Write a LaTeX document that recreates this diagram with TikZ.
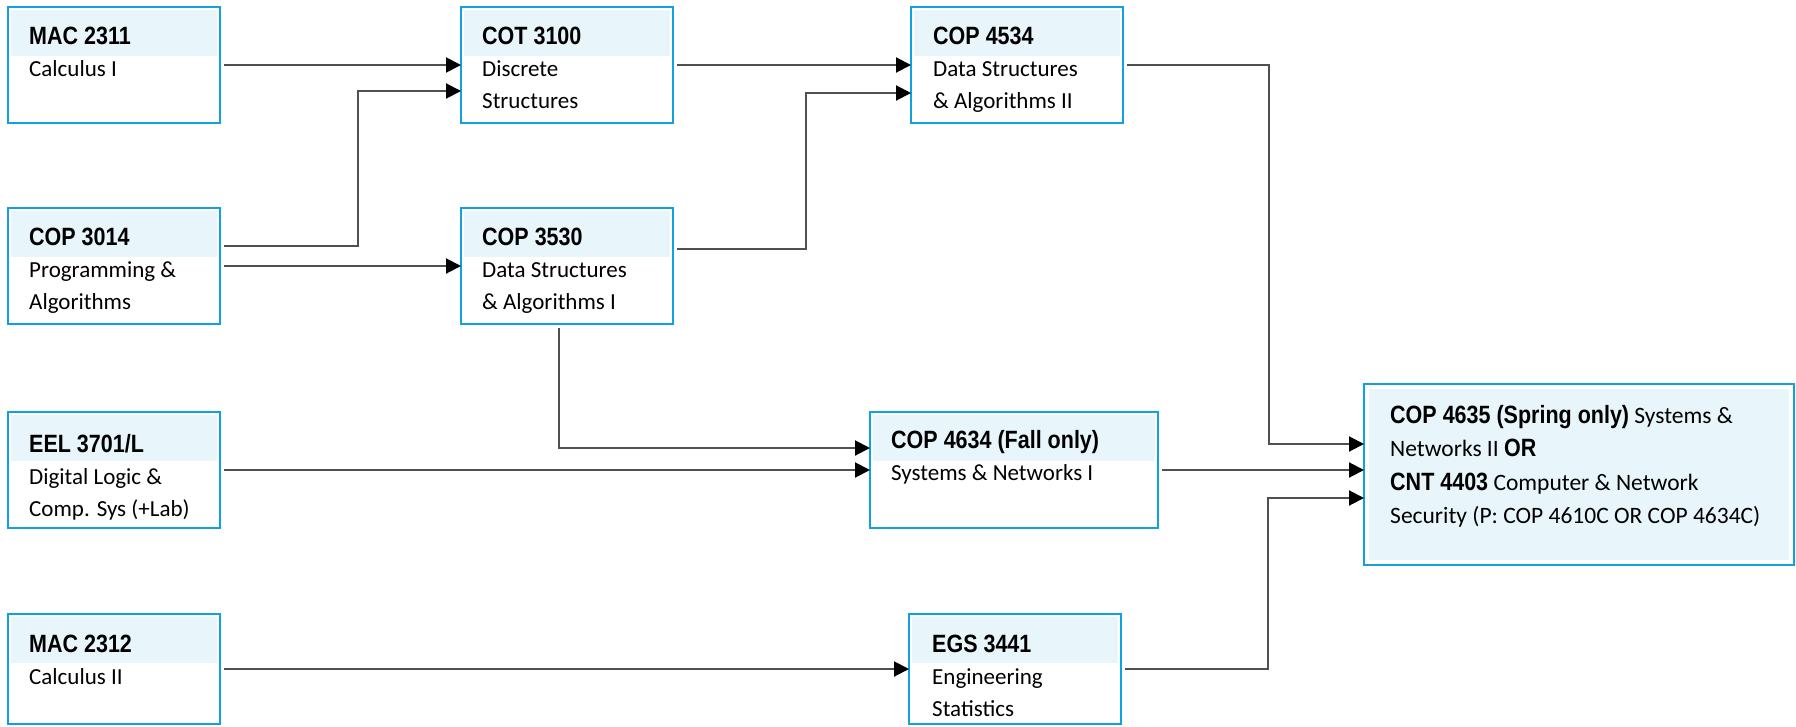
\documentclass[tikz,border=0pt]{standalone}
\usepackage{fontspec}
\setmainfont{Carlito}
\newfontfamily\headfont[FakeStretch=0.86]{Liberation Sans}
\usetikzlibrary{positioning,arrows.meta}
\definecolor{boxblue}{HTML}{11A0E0}
\definecolor{headfill}{HTML}{E8F6FB}
\definecolor{linegray}{HTML}{505050}
\newcommand{\hd}[1]{{\headfont\bfseries\fontsize{25}{32}\selectfont\rule{0pt}{20pt}#1}}

\begin{document}
\begin{tikzpicture}[
    box/.style={draw=boxblue, line width=2.4pt, inner sep=0pt, outer sep=0pt,
        minimum width=212pt, minimum height=116pt},
    course/.style={box, path picture={\fill[headfill]
        ([xshift=3pt,yshift=-3pt]path picture bounding box.north west) rectangle
        ([xshift=-3pt,yshift=-49pt]path picture bounding box.north east);}},
    goalbox/.style={box, path picture={\fill[headfill]
        ([xshift=5pt,yshift=-5pt]path picture bounding box.north west) rectangle
        ([xshift=-5pt,yshift=5pt]path picture bounding box.south east);}},
    txt/.style={anchor=north west, inner sep=0pt, align=left,
        font=\fontsize{23}{32}\selectfont},
    link/.style={draw=linegray, line width=2pt, shorten <=4pt,
        -{Triangle[length=15pt,width=15pt,color=black]}}
    ]
    \useasboundingbox (0,0) rectangle (1796pt,-726pt);
    \node[course] (mac1) at (114pt,-65pt) {};
    \node[course, right=241pt of mac1] (cot) {};
    \node[course, right=238pt of cot] (ds2) {};
    \node[course, below=85pt of mac1] (cop1) {};
    \node[course, below=85pt of cot] (ds1) {};
    \node[course, below=88pt of cop1] (eel) {};
    \node[course, minimum width=288pt, right=650pt of eel] (sys) {};
    \node[course, minimum height=110pt, below=86pt of eel] (mac2) {};
    \node[course, minimum height=110pt, right=689pt of mac2] (egs) {};
    \node[goalbox, minimum width=430pt, minimum height=181pt,
        right=206pt of sys, yshift=-4.5pt] (goal) {};

    \node[txt] (mac1t) at ([xshift=21pt,yshift=-17pt]mac1.north west) {\hd{MAC 2311}\\Calculus I};
    \node[txt] (cott) at ([xshift=21pt,yshift=-17pt]cot.north west) {\hd{COT 3100}\\Discrete\\Structures};
    \node[txt] (ds2t) at ([xshift=22pt,yshift=-17pt]ds2.north west) {\hd{COP 4534}\\Data Structures\\\& Algorithms II};
    \node[txt] (cop1t) at ([xshift=21pt,yshift=-17pt]cop1.north west) {\hd{COP 3014}\\Programming \&\\Algorithms};
    \node[txt] (ds1t) at ([xshift=21pt,yshift=-17pt]ds1.north west) {\hd{COP 3530}\\Data Structures\\\& Algorithms I};
    \node[txt] (eelt) at ([xshift=21pt,yshift=-20pt]eel.north west) {\hd{EEL 3701/L}\\Digital Logic \&\\Comp. Sys (+Lab)};
    \node[txt] (syst) at ([xshift=21pt,yshift=-16pt]sys.north west) {\hd{COP 4634 (Fall only)}\\Systems \& Networks I};
    \node[txt] (mac2t) at ([xshift=21pt,yshift=-18pt]mac2.north west) {\hd{MAC 2312}\\Calculus II};
    \node[txt] (egst) at ([xshift=23pt,yshift=-18pt]egs.north west) {\hd{EGS 3441}\\Engineering\\Statistics};
    \node[txt, font=\fontsize{23.5}{33.5}\selectfont] (goalt) at ([xshift=26pt,yshift=-19pt]goal.north west)
        {\hd{COP 4635 (Spring only)} Systems \&\\Networks II \hd{OR}\\\hd{CNT 4403} Computer \& Network\\Security (P: COP 4610C OR COP 4634C)};

    \draw[link] (mac1.east) -- (cot.west);
    \draw[link] ([yshift=20pt]cop1.east) -- ++(138pt,0) |- ([yshift=-26pt]cot.west);
    \draw[link] (cop1.east) -- (ds1.west);
    \draw[link] (cot.east) -- (ds2.west);
    \draw[link] ([yshift=17pt]ds1.east) -- ++(133pt,0) |- ([yshift=-28pt]ds2.west);
    \draw[link] ([xshift=-8pt]ds1.south) |- ([yshift=22pt]sys.west);
    \draw[link] (eel.east) -- (sys.west);
    \draw[link] (mac2.east) -- (egs.west);
    \draw[link] (ds2.east) -- ++(146pt,0) |- ([yshift=30.5pt]goal.west);
    \draw[link] (sys.east) -- (sys.east -| goal.west);
    \draw[link] (egs.east) -- ++(147pt,0) |- ([yshift=-23.5pt]goal.west);
\end{tikzpicture}
\end{document}
